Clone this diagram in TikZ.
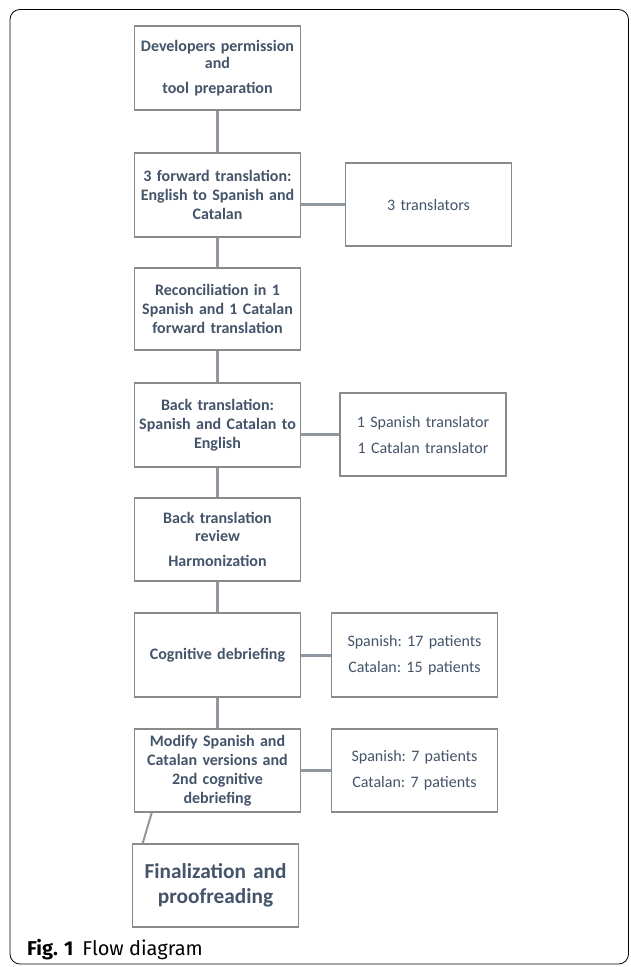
\documentclass[tikz,border=0pt]{standalone}
\usepackage{fontspec}
\setmainfont{Carlito}
\newfontfamily\capfont{Fira Sans}
\usetikzlibrary{calc}
\definecolor{txt}{HTML}{44546A}
\definecolor{boxline}{HTML}{8A8A8A}
\definecolor{conn}{HTML}{8F98A0}
\tikzset{
  stepbox/.style={draw=boxline, line width=1.6pt, fill=white, minimum width=165pt, text=txt, align=center, font=\fontsize{16}{19}\selectfont\bfseries\frenchspacing, inner sep=2pt, text width=162pt},
  sidebox/.style={draw=boxline, line width=1.6pt, fill=white, minimum width=165pt, text=txt, align=center, font=\fontsize{16}{26}\selectfont\frenchspacing, inner sep=2pt, text width=162pt},
  link/.style={draw=conn, line width=3pt}
}
\begin{document}
\begin{tikzpicture}[x=1pt,y=-1pt]
\useasboundingbox (0,0) rectangle (630,967);
\draw[line width=0.8pt, rounded corners=10pt] (10,9.5) rectangle (628.5,964);
% main column
\node[stepbox, minimum height=84pt] (b1) at (217.5,68) {Developers permission\\[-2pt] and\\[6pt] tool preparation};
\node[stepbox, minimum height=84pt] (b2) at (217.5,195) {3 forward translation:\\ English to Spanish and\\ Catalan};
\node[stepbox, minimum height=82pt] (b3) at (217.5,309) {Reconciliation in 1\\ Spanish and 1 Catalan\\ forward translation};
\node[stepbox, minimum height=84pt] (b4) at (217.5,425) {Back translation:\\ Spanish and Catalan to\\ English};
\node[stepbox, minimum height=83pt] (b5) at (217.5,539.5) {Back translation\\[-1pt] review\\[6pt] Harmonization};
\node[stepbox, minimum height=84pt] (b6) at (217.5,655) {Cognitive debriefing};
\node[stepbox, minimum height=83pt] (b7) at (217.5,770.5) {Modify Spanish and\\ Catalan versions and\\ 2nd cognitive\\ debriefing};
\node[stepbox, minimum height=83pt, font=\fontsize{21.3}{25}\selectfont\bfseries] (b8) at (215.5,885.5) {Finalization and\\ proofreading};
% side boxes
\node[sidebox, minimum height=83pt] (r2) at (428.5,204.5) {3 translators};
\node[sidebox, minimum height=83pt] (r4) at (423,434.5) {1 Spanish translator\\ 1 Catalan translator};
\node[sidebox, minimum height=84pt] (r6) at (414.5,655) {Spanish: 17 patients\\ Catalan: 15 patients};
\node[sidebox, minimum height=83pt] (r7) at (414.5,770.5) {Spanish: 7 patients\\ Catalan: 7 patients};
% connectors
\draw[link] (b1.south) -- (b2.north);
\draw[link] (b2.south) -- (b3.north);
\draw[link] (b3.south) -- (b4.north);
\draw[link] (b4.south) -- (b5.north);
\draw[link] (b5.south) -- (b6.north);
\draw[link] (b6.south) -- (b7.north);
\draw[link] (b2.east |- r2.west) -- (r2.west);
\draw[link] (b4.east |- r4.west) -- (r4.west);
\draw[link] (b6.east) -- (r6.west);
\draw[link] (b7.east) -- (r7.west);
\draw[draw=conn, line width=2pt] ($(b7.south west)+(18,0)$) -- ($(b8.north west)+(11,0)$);
% caption
\node[anchor=base west, inner sep=0pt, font=\capfont\fontsize{20}{22}\selectfont] (cap) at (27,955) {\textbf{Fig. 1}\hspace{9pt}Flow diagram};
\end{tikzpicture}
\end{document}
